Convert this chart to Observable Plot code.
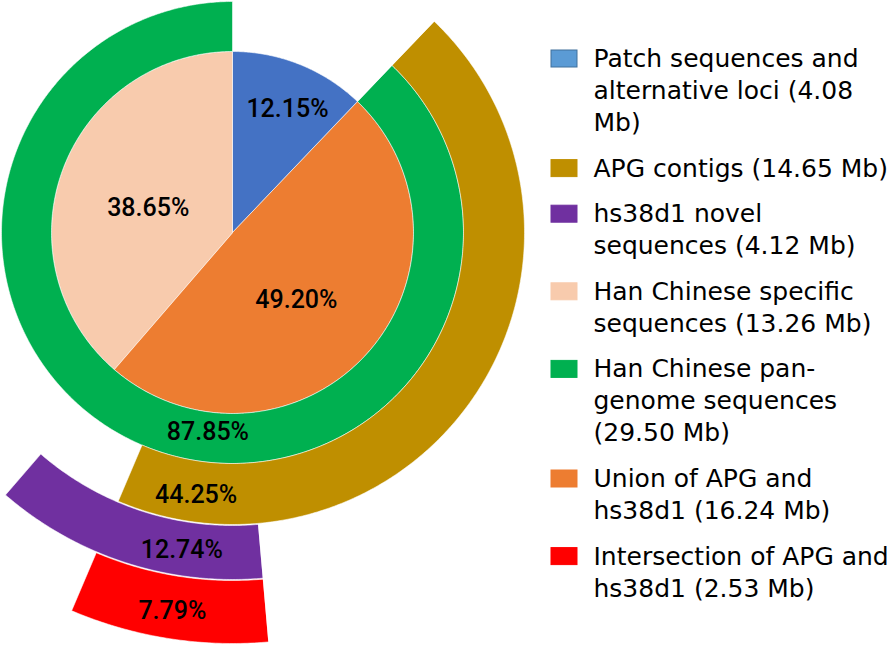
<!DOCTYPE html>
<html>
<head>
<meta charset="utf-8">
<script src="https://cdn.jsdelivr.net/npm/d3@7"></script>
<script src="https://cdn.jsdelivr.net/npm/@observablehq/plot@0.6"></script>
<style>
  html, body { margin: 0; padding: 0; background: #ffffff; }
  #chart svg { display: block; }
</style>
</head>
<body>
<div id="chart"></div>
<script>
// ---------------- DATA ----------------
// Inner pie (share of Han Chinese pan-genome, %), clockwise from 12 o'clock
const pieCategories = ["Patch sequences and alternative loci", "Union of APG and hs38d1", "Han Chinese specific sequences"];
const piePercents = [12.15, 49.20, 38.65];

// Outer rings (%), from inner to outer
const ringCategories = ["Han Chinese pan-genome sequences", "APG contigs", "hs38d1 novel sequences", "Intersection of APG and hs38d1"];
const ringPercents = [87.85, 44.25, 12.74, 7.79];

// Legend entries (order as shown) and their wrapped label lines
const legendCategories = ["Patch sequences and alternative loci", "APG contigs", "hs38d1 novel sequences", "Han Chinese specific sequences", "Han Chinese pan-genome sequences", "Union of APG and hs38d1", "Intersection of APG and hs38d1"];
const legendLabelLines = [
  ["Patch sequences and", "alternative loci (4.08", "Mb)"],
  ["APG contigs (14.65 Mb)"],
  ["hs38d1 novel", "sequences (4.12 Mb)"],
  ["Han Chinese specific", "sequences (13.26 Mb)"],
  ["Han Chinese pan-", "genome sequences", "(29.50 Mb)"],
  ["Union of APG and", "hs38d1 (16.24 Mb)"],
  ["Intersection of APG and", "hs38d1 (2.53 Mb)"]
];

// ---------------- STYLES / LAYOUT ----------------
const sliceColor = {
  "Patch sequences and alternative loci": "#4472C4",
  "Union of APG and hs38d1": "#ED7D31",
  "Han Chinese specific sequences": "#F8CBAD",
  "Han Chinese pan-genome sequences": "#00B050",
  "APG contigs": "#BF8F00",
  "hs38d1 novel sequences": "#7030A0",
  "Intersection of APG and hs38d1": "#FF0000"
};
const legendColor = Object.assign({}, sliceColor, {"Patch sequences and alternative loci": "#5B9BD5"});
const legendStroke = Object.assign({}, legendColor, {"Patch sequences and alternative loci": "#41719C"});

const W = 894, H = 648;
const CX = 232, CY = 232;          // common centre
const pieR = 181;
const ringBands = [[181, 231], [231, 292], [293, 347], [348, 411]];
const pieLabelFrac = [0.55, 0.525, 0.47];   // position along the slice
const pieLabelRad = [0.745, 0.515, 0.485];  // fraction of pie radius
const ringLabelFrac = [0.453, 0.905, 0.307, 0.5];
const ringLabelRad = [0.41, 0.55, 0.52, 0.565]; // fraction across band
const labelFont = "Roboto, 'Liberation Sans', Arial, sans-serif";
const legendFont = "'DejaVu Sans', 'Noto Sans', sans-serif";

// ---------------- GEOMETRY FROM DATA ----------------
const TAU = Math.PI * 2;
function polar(p, r) { const a = p / 100 * TAU; return {x: CX + r * Math.sin(a), y: CY - r * Math.cos(a)}; }
function arcPolygon(id, p0, p1, r0, r1) {
  const n = Math.max(2, Math.ceil((p1 - p0) * 3.6 / 0.5));
  const pts = [];
  for (let i = 0; i <= n; i++) pts.push({id, color: sliceColor[id], ...polar(p0 + (p1 - p0) * i / n, r1)});
  if (r0 > 0) for (let i = n; i >= 0; i--) pts.push({id, color: sliceColor[id], ...polar(p0 + (p1 - p0) * i / n, r0)});
  else pts.push({id, color: sliceColor[id], x: CX, y: CY});
  return pts;
}

// pie slices
const pieStarts = d3.cumsum([0, ...piePercents.slice(0, -1)]);
let polys = [];
const labels = [];
pieCategories.forEach((c, i) => {
  const p0 = pieStarts[i], p1 = p0 + piePercents[i];
  polys = polys.concat(arcPolygon(c, p0, p1, 0, pieR));
  labels.push({text: piePercents[i].toFixed(2) + "%", ...polar(p0 + (p1 - p0) * pieLabelFrac[i], pieR * pieLabelRad[i])});
});

// ring starts derived from the set relationships
const unionEnd = piePercents[0] + piePercents[1];
const ringStarts = [
  piePercents[0],                       // pan-genome: everything after patch seqs
  piePercents[0],                       // APG contigs start where union starts
  unionEnd - ringPercents[2],           // hs38d1 novel ends where union ends
  unionEnd - ringPercents[2]            // intersection starts with hs38d1
];
ringCategories.forEach((c, i) => {
  const p0 = ringStarts[i], p1 = p0 + ringPercents[i];
  const [r0, r1] = ringBands[i];
  polys = polys.concat(arcPolygon(c, p0, p1, r0, r1));
  labels.push({text: ringPercents[i].toFixed(2) + "%", ...polar(p0 + (p1 - p0) * ringLabelFrac[i], r0 + (r1 - r0) * ringLabelRad[i])});
});

// legend layout
const LX = 551, LSW = 26, LSH = 17, LTX = 593, LY0 = 67, LLH = 32, LGAP = 13.6;
const legendText = [], legendSwatch = [];
let lineIdx = 0;
legendCategories.forEach((c, i) => {
  const first = LY0 + lineIdx * LLH + i * LGAP;
  legendSwatch.push({c, x1: LX, x2: LX + LSW, y1: first - LSH, y2: first});
  legendLabelLines[i].forEach((t, j) => {
    legendText.push({text: t, x: LTX, y: LY0 + (lineIdx + j) * LLH + i * LGAP - 8.5});
  });
  lineIdx += legendLabelLines[i].length;
});

const chart = Plot.plot({
  width: W, height: H, margin: 0,
  x: {domain: [0, W], range: [0, W], axis: null},
  y: {domain: [0, H], range: [0, H], axis: null},
  color: {type: "identity"},
  style: {background: "#ffffff"},
  marks: [
    Plot.line(polys, {x: "x", y: "y", z: "id", fill: "color", stroke: "#ffffff", strokeWidth: 0.8, strokeOpacity: 0.7, curve: "linear-closed"}),
    Plot.text(labels, {x: "x", y: "y", text: "text", fontSize: 25, fontWeight: 500, fontFamily: labelFont, fill: "#000000"}),
    Plot.rect(legendSwatch, {x1: "x1", x2: "x2", y1: "y1", y2: "y2", fill: d => legendColor[d.c], stroke: d => legendStroke[d.c], strokeWidth: 1}),
    Plot.text(legendText, {x: "x", y: "y", text: "text", textAnchor: "start", fontSize: 25, fontFamily: legendFont, fill: "#000000"})
  ]
});
document.getElementById("chart").appendChild(chart);
</script>
</body>
</html>
